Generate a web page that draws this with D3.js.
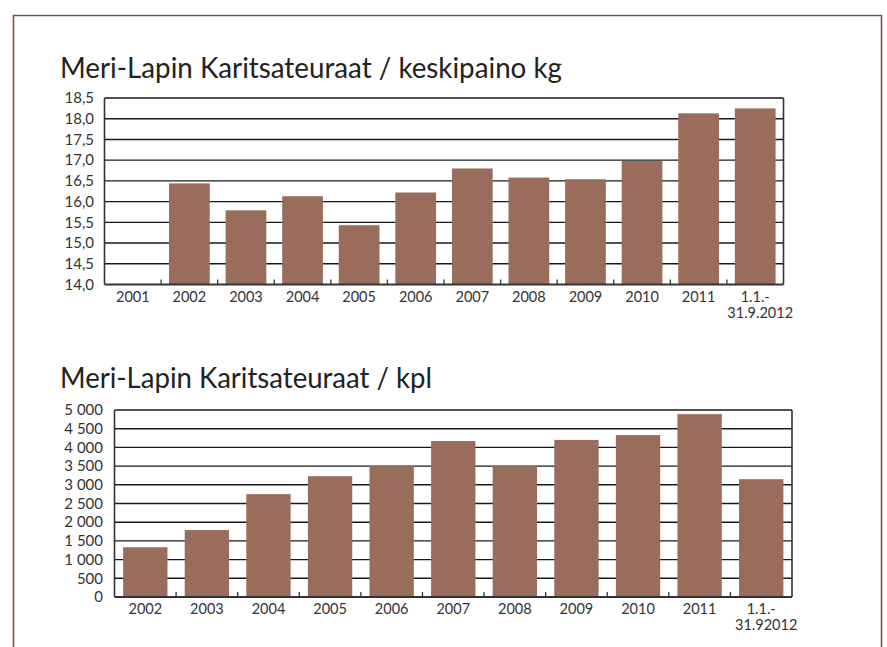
<!DOCTYPE html>
<html><head><meta charset="utf-8">
<script src="https://cdn.jsdelivr.net/npm/d3@7"></script>
<style>
html,body{margin:0;padding:0;background:#fff;}
svg text{font-family:Lato,"Open Sans",sans-serif;}
</style></head>
<body><svg id="c" width="887" height="647"></svg>
<script>
// Chart 1: average weight (kg)
const title1 = "Meri-Lapin Karitsateuraat / keskipaino kg";
const categories1 = ["2001","2002","2003","2004","2005","2006","2007","2008","2009","2010","2011","1.1.-\n31.9.2012"];
const values1 = [null,16.44,15.79,16.13,15.43,16.22,16.80,16.58,16.54,16.98,18.13,18.25];
const ticks1 = [14.0,14.5,15.0,15.5,16.0,16.5,17.0,17.5,18.0,18.5];

// Chart 2: count (pcs)
const title2 = "Meri-Lapin Karitsateuraat / kpl";
const categories2 = ["2002","2003","2004","2005","2006","2007","2008","2009","2010","2011","1.1.-\n31.92012"];
const values2 = [1330,1790,2750,3230,3500,4170,3500,4200,4330,4890,3150];
const ticks2 = [0,500,1000,1500,2000,2500,3000,3500,4000,4500,5000];

const BAR = "#9a6c5b";
const svg = d3.select("#c");

// outer frame
svg.append("path")
  .attr("d","M13.5,647 V15.5 H881.5 V647")
  .attr("fill","none").attr("stroke","#7d5344").attr("stroke-width",1.6);

function drawChart(opt){
  const {title, cats, vals, ticks, x0, x1, y0, y1, titleY, titleW, fmt, labelX} = opt;
  const g = svg.append("g");
  g.append("text").attr("x",60).attr("y",titleY)
    .attr("font-size",28).attr("fill","#222").attr("font-weight",400)
    .attr("textLength",titleW).attr("lengthAdjust","spacingAndGlyphs")
    .text(title);
  const x = d3.scaleBand().domain(cats).range([x0,x1]).paddingInner(0.28).paddingOuter(0.14);
  const y = d3.scaleLinear().domain([ticks[0], ticks[ticks.length-1]]).range([y1,y0]);
  // gridlines
  g.append("g").selectAll("line").data(ticks.slice(1)).join("line")
    .attr("x1",x0).attr("x2",x1).attr("y1",d=>y(d)).attr("y2",d=>y(d))
    .attr("stroke","#1a1a1a").attr("stroke-width",1.4);
  // bars
  g.append("g").selectAll("rect").data(cats.map((c,i)=>({c,v:vals[i]})).filter(d=>d.v!=null)).join("rect")
    .attr("x",d=>x(d.c)).attr("width",x.bandwidth())
    .attr("y",d=>y(d.v)).attr("height",d=>y1-y(d.v))
    .attr("fill",BAR);
  // frame lines left/right
  g.append("line").attr("x1",x0).attr("x2",x0).attr("y1",y0).attr("y2",y1).attr("stroke","#333").attr("stroke-width",1.6);
  g.append("line").attr("x1",x1).attr("x2",x1).attr("y1",y0).attr("y2",y1).attr("stroke","#333").attr("stroke-width",1.6);
  // bottom axis
  g.append("line").attr("x1",x0).attr("x2",x1).attr("y1",y1).attr("y2",y1).attr("stroke","#333").attr("stroke-width",2);
  // category separator ticks
  const step = x.step();
  g.append("g").selectAll("line").data(cats.slice(1)).join("line")
    .attr("x1",d=>x(d)-step*0.14).attr("x2",d=>x(d)-step*0.14)
    .attr("y1",y1).attr("y2",y1-5).attr("stroke","#333").attr("stroke-width",1.3);
  // y labels
  g.append("g").selectAll("text").data(ticks).join("text")
    .attr("x",labelX).attr("y",d=>y(d)).attr("dy","0.35em")
    .attr("text-anchor","end").attr("font-size",15).attr("fill","#333")
    .text(fmt);
  // x labels (each line is its own text)
  const lines = [];
  cats.forEach(c=>c.split("\n").forEach((p,i)=>lines.push({c,p,i})));
  g.append("g").selectAll("text").data(lines).join("text")
    .attr("x",d=>x(d.c)+x.bandwidth()/2 + (d.i>0?5:0))
    .attr("y",d=>y1+17+d.i*16)
    .attr("text-anchor","middle").attr("font-size",14.5).attr("fill","#333")
    .text(d=>d.p);
}

drawChart({title:title1, cats:categories1, vals:values1, ticks:ticks1,
  x0:104.5, x1:783.5, y0:98, y1:284.5, titleY:78, titleW:502, labelX:94,
  fmt:d=>d.toFixed(1).replace(".",",")});
drawChart({title:title2, cats:categories2, vals:values2, ticks:ticks2,
  x0:114.5, x1:792, y0:410, y1:597, titleY:388, titleW:372, labelX:103,
  fmt:d=>d3.format(",")(d).replace(/,/g," ")});
</script></body></html>
